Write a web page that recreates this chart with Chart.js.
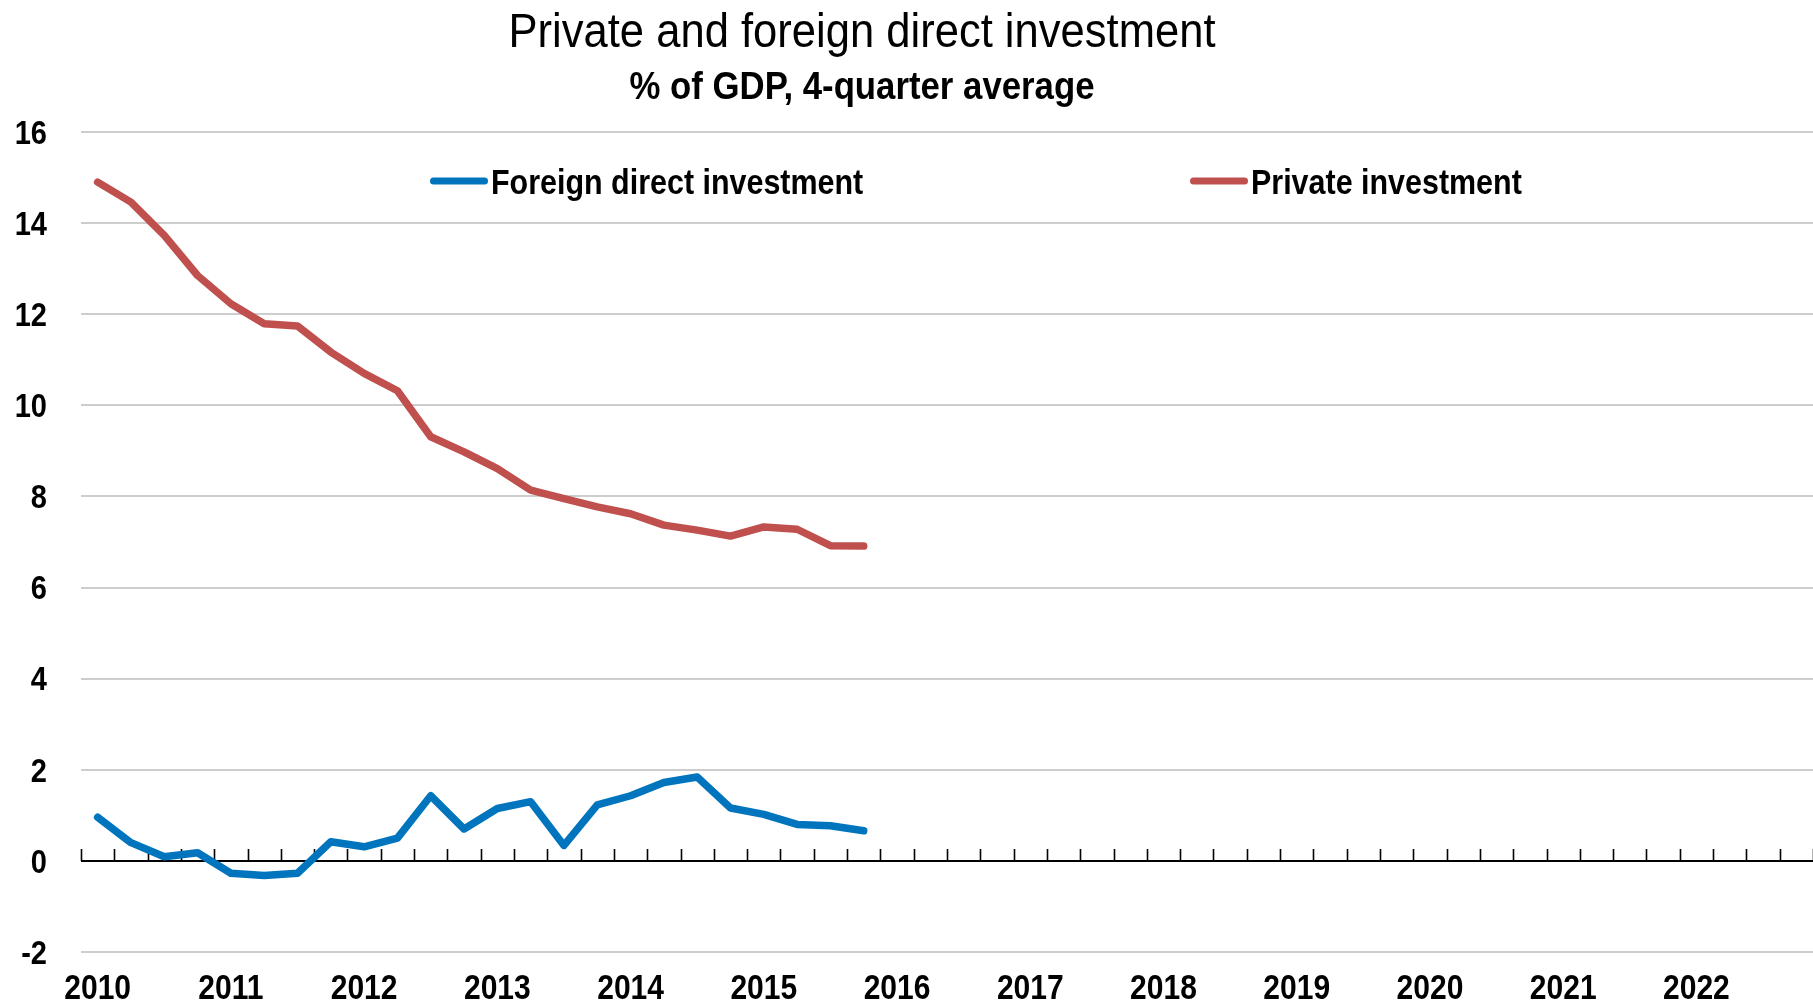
<!DOCTYPE html>
<html>
<head>
<meta charset="utf-8">
<script src="https://cdn.jsdelivr.net/npm/chart.js@4.4.1/dist/chart.umd.min.js"></script>
<style>
  html, body { margin: 0; padding: 0; background: #fff; }
</style>
</head>
<body>
<canvas id="chart" width="1813" height="1006"></canvas>
<script>
// categories: quarters 2010Q1 .. 2022Q4, year label on Q1 only
const years = ['2010', '2011', '2012', '2013', '2014', '2015', '2016',
               '2017', '2018', '2019', '2020', '2021', '2022'];
const quarters = ['Q1', 'Q2', 'Q3', 'Q4'];

// % of GDP, 4-quarter average (2010Q1 .. 2015Q4)
const fdi = [0.96, 0.40, 0.09, 0.18, -0.27, -0.32, -0.27, 0.42,
             0.31, 0.50, 1.43, 0.70, 1.15, 1.30, 0.34, 1.23,
             1.43, 1.72, 1.84, 1.16, 1.02, 0.80, 0.77, 0.66];
const privateInv = [14.90, 14.46, 13.73, 12.85, 12.23, 11.79, 11.74, 11.17,
                    10.70, 10.32, 9.31, 8.98, 8.61, 8.14, 7.95, 7.77,
                    7.62, 7.37, 7.26, 7.13, 7.33, 7.28, 6.92, 6.91];

const yMin = -2;
const yMax = 16;
const yStep = 2;

const seriesNames = ['Foreign direct investment', 'Private investment'];
const titleText = 'Private and foreign direct investment';
const subtitleText = '% of GDP, 4-quarter average';

const labels = [];
years.forEach(y => quarters.forEach(q => labels.push(y + ' ' + q)));

const sans = '"Liberation Sans", Arial, sans-serif';
const blue = '#0075BE';
const red = '#C0504D';

// the original uses a narrow face; squeeze Liberation Sans horizontally
function squeezed(ctx, text, x, y, sx, align) {
    ctx.save();
    ctx.translate(x, y);
    ctx.scale(sx, 1);
    ctx.textAlign = align;
    ctx.textBaseline = 'alphabetic';
    ctx.fillText(text, 0, 0);
    ctx.restore();
}

function fitted(ctx, text, x, y, width, align) {
    const sx = width / ctx.measureText(text).width;
    squeezed(ctx, text, x, y, sx, align);
}

// zero line with small upward tick marks at the quarter boundaries
const zeroAxis = {
    id: 'zeroAxis',
    beforeDatasetsDraw(chart) {
        const ctx = chart.ctx;
        const xs = chart.scales.x;
        const ys = chart.scales.y;
        const area = chart.chartArea;
        const y0 = Math.round(ys.getPixelForValue(0));
        const half = (xs.getPixelForValue(1) - xs.getPixelForValue(0)) / 2;
        ctx.save();
        ctx.strokeStyle = '#000';
        ctx.lineWidth = 2;
        ctx.beginPath();
        ctx.moveTo(area.left, y0);
        ctx.lineTo(area.right, y0);
        ctx.stroke();
        ctx.lineWidth = 1.6;
        ctx.beginPath();
        for (let i = 0; i <= labels.length; i++) {
            const x = Math.round(xs.getPixelForValue(i) - half) + 0.5;
            ctx.moveTo(x, y0);
            ctx.lineTo(x, y0 - 12);
        }
        ctx.stroke();
        ctx.restore();
    }
};

// tick labels, placed from the scales' own ticks
const tickText = {
    id: 'tickText',
    afterDraw(chart) {
        const ctx = chart.ctx;
        const xs = chart.scales.x;
        const ys = chart.scales.y;
        ctx.save();
        ctx.fillStyle = '#000';
        ctx.font = 'bold 33px ' + sans;
        ys.ticks.forEach(t => {
            const y = ys.getPixelForValue(t.value);
            squeezed(ctx, String(t.value), 47, y + 11.8, 0.88, 'right');
        });
        ctx.font = 'bold 34.5px ' + sans;
        labels.forEach((lab, i) => {
            if (i % 4 !== 0) return;
            squeezed(ctx, years[i / 4], xs.getPixelForValue(i), 998.5, 0.87, 'center');
        });
        ctx.restore();
    }
};

const headings = {
    id: 'headings',
    afterDraw(chart) {
        const ctx = chart.ctx;
        ctx.save();
        ctx.fillStyle = '#000';
        ctx.font = '49px ' + sans;
        fitted(ctx, titleText, 862, 46.5, 707, 'center');
        ctx.font = 'bold 39px ' + sans;
        fitted(ctx, subtitleText, 862, 99, 465, 'center');
        ctx.restore();
    }
};

const lineLegend = {
    id: 'lineLegend',
    afterDraw(chart) {
        const ctx = chart.ctx;
        const spots = [430, 1190];
        const y = 181;
        ctx.save();
        ctx.font = 'bold 35px ' + sans;
        chart.data.datasets.forEach((ds, i) => {
            const x = spots[i];
            ctx.strokeStyle = ds.borderColor;
            ctx.lineWidth = 7;
            ctx.lineCap = 'round';
            ctx.beginPath();
            ctx.moveTo(x + 3.5, y);
            ctx.lineTo(x + 54.5, y);
            ctx.stroke();
            ctx.fillStyle = '#000';
            squeezed(ctx, ds.label, x + 61, y + 12.5, 0.87, 'left');
        });
        ctx.restore();
    }
};

const ctx = document.getElementById('chart').getContext('2d');
const chart = new Chart(ctx, {
    type: 'line',
    data: {
        labels: labels,
        datasets: [{
            label: seriesNames[0],
            data: fdi,
            borderColor: blue,
            backgroundColor: blue,
            borderWidth: 7.5
        }, {
            label: seriesNames[1],
            data: privateInv,
            borderColor: red,
            backgroundColor: red,
            borderWidth: 7.5
        }]
    },
    options: {
        responsive: false,
        devicePixelRatio: 1,
        animation: false,
        layout: { padding: { top: 132, left: 0, right: 0, bottom: 0 } },
        elements: {
            line: { tension: 0, borderCapStyle: 'round', borderJoinStyle: 'round', fill: false },
            point: { radius: 0, hoverRadius: 0 }
        },
        plugins: {
            legend: { display: false },
            title: { display: false },
            tooltip: { enabled: false }
        },
        scales: {
            x: {
                type: 'category',
                offset: true,
                grid: { display: false },
                border: { display: false },
                ticks: { display: false, autoSkip: false },
                afterFit: s => { s.height = 54; }
            },
            y: {
                min: yMin,
                max: yMax,
                grid: { color: '#cdcdcd', lineWidth: 2, drawTicks: false },
                border: { display: false },
                ticks: { display: false, stepSize: yStep },
                afterFit: s => { s.width = 81; }
            }
        }
    },
    plugins: [zeroAxis, tickText, headings, lineLegend]
});
</script>
</body>
</html>
